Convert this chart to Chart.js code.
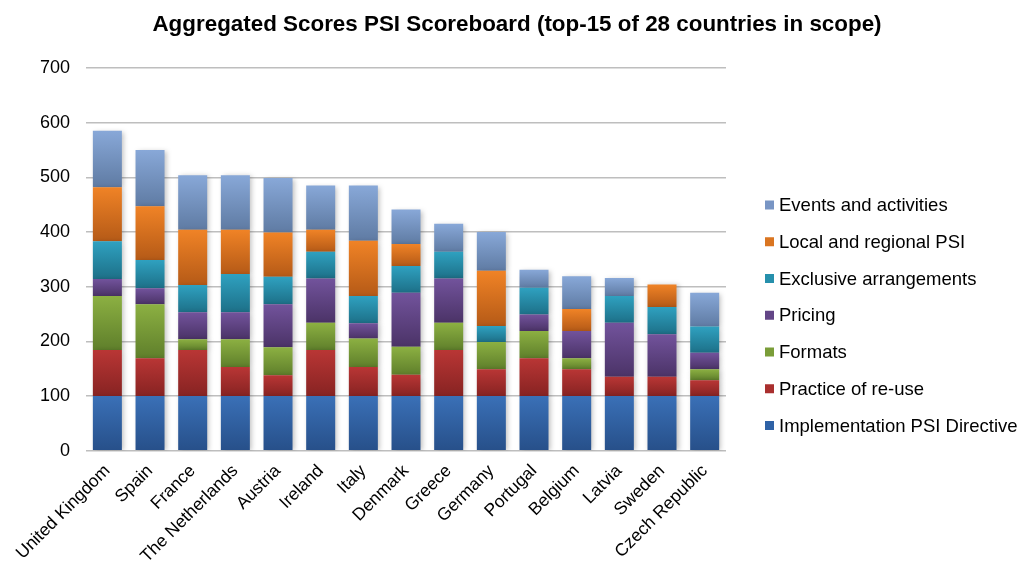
<!DOCTYPE html>
<html>
<head>
<meta charset="utf-8">
<script src="https://cdn.jsdelivr.net/npm/chart.js@4/dist/chart.umd.min.js"></script>
<style>
  html, body { margin: 0; padding: 0; background: #fff; }
  #wrap { width: 1019px; height: 565px; }
</style>
</head>
<body>
<div id="wrap"><canvas id="c" width="1019" height="565"></canvas></div>
<script>
const chartTitle = 'Aggregated Scores PSI Scoreboard (top-15 of 28 countries in scope)';
const categories = ['United Kingdom','Spain','France','The Netherlands','Austria','Ireland','Italy','Denmark','Greece','Germany','Portugal','Belgium','Latvia','Sweden','Czech Republic'];
const implementationPSI = [100,100,100,100,100,100,100,100,100,100,100,100,100,100,100];
const practiceReuse    = [84, 69, 84, 53, 38, 84, 53, 39, 84, 49, 69, 49, 35, 35, 29];
const formats          = [99, 99, 20, 51, 51, 50, 52, 51, 50, 50, 50, 20, 0, 0, 20];
const pricing          = [31, 29, 49, 49, 79, 81, 28, 99, 81, 0, 30, 50, 99, 78, 30];
const exclusiveArr     = [69, 52, 50, 70, 50, 49, 50, 49, 49, 29, 49, 0, 49, 50, 48];
const localRegional    = [99, 98, 101, 81, 81, 40, 101, 40, 0, 101, 0, 40, 0, 41, 0];
const eventsActivities = [103, 103, 100, 100, 100, 81, 101, 63, 51, 71, 33, 60, 33, 0, 62];
const yTicks = [0,100,200,300,400,500,600,700];

const seriesDefs = [
  ['Implementation PSI Directive', implementationPSI, '#3A70B7', '#27508A', '#2F62A6'],
  ['Practice of re-use', practiceReuse, '#B93635', '#872322', '#A92F2E'],
  ['Formats', formats, '#8CB042', '#5F7F2B', '#7A9D38'],
  ['Pricing', pricing, '#72539C', '#4B3367', '#634687'],
  ['Exclusive arrangements', exclusiveArr, '#2FA1C0', '#1D7088', '#2690AC'],
  ['Local and regional PSI', localRegional, '#F08326', '#B55A17', '#DA7521'],
  ['Events and activities', eventsActivities, '#88A8D8', '#5F7BA3', '#7895C4']
];

const datasets = seriesDefs.map(([label, data, top, bottom, mid]) => ({
  label, data,
  backgroundColor: (c) => top,
  topColor: top, bottomColor: bottom, legendColor: mid,
  borderWidth: 0,
  barPercentage: 0.68,
  categoryPercentage: 1.0
}));

const FONT = '"Liberation Sans", Arial, sans-serif';

const gradientPlugin = {
  id: 'grad',
  beforeDatasetDraw(chart, args) {
    const ctx = chart.ctx;
    const ds = chart.data.datasets[args.index];
    args.meta.data.forEach(el => {
      const t = Math.min(el.y, el.base), b = Math.max(el.y, el.base);
      if (b - t < 0.5) return;
      const g = ctx.createLinearGradient(0, t, 0, b);
      g.addColorStop(0, ds.topColor);
      g.addColorStop(1, ds.bottomColor);
      el.options = Object.assign({}, el.options, { backgroundColor: g });
    });
    ctx.save();
    ctx.shadowColor = 'rgba(0,0,0,0.25)';
    ctx.shadowBlur = 5;
    ctx.shadowOffsetX = 2;
    ctx.shadowOffsetY = 1;
  },
  afterDatasetDraw(chart) {
    chart.ctx.restore();
  }
};

// Title and right-hand legend drawn as text on the canvas
const annotPlugin = {
  id: 'annot',
  afterDraw(chart) {
    const ctx = chart.ctx;
    ctx.save();
    ctx.fillStyle = '#000';
    ctx.font = 'bold 22.4px ' + FONT;
    ctx.textAlign = 'center';
    ctx.textBaseline = 'alphabetic';
    ctx.fillText(chartTitle, 517, 31);

    ctx.font = '18.5px ' + FONT;
    ctx.textAlign = 'left';
    ctx.textBaseline = 'middle';
    const items = chart.data.datasets.slice().reverse();
    items.forEach((ds, i) => {
      const cy = 205 + i * 36.75;
      ctx.fillStyle = ds.legendColor;
      ctx.fillRect(765, cy - 4.5, 9, 9);
      ctx.fillStyle = '#000';
      ctx.fillText(ds.label, 779, cy + 1);
    });
    ctx.restore();
  }
};

new Chart(document.getElementById('c'), {
  type: 'bar',
  data: { labels: categories, datasets },
  plugins: [gradientPlugin, annotPlugin],
  options: {
    responsive: false,
    animation: false,
    layout: { padding: { left: 24, right: 293, top: 68, bottom: -4 } },
    plugins: {
      title: { display: false },
      legend: { display: false },
      tooltip: { enabled: false }
    },
    scales: {
      x: {
        stacked: true,
        grid: { display: false },
        border: { display: false },
        ticks: {
          color: '#000',
          font: { family: FONT, size: 17.5 },
          maxRotation: 45, minRotation: 45, autoSkip: false, padding: 2
        }
      },
      y: {
        stacked: true,
        min: 0, max: 700,
        afterBuildTicks(axis) { axis.ticks = yTicks.map(v => ({ value: v })); },
        grid: { color: '#BEBEBE', lineWidth: 1.5, drawTicks: false },
        border: { display: false },
        ticks: {
          color: '#000',
          font: { family: FONT, size: 18 },
          padding: 16
        }
      }
    }
  }
});
</script>
</body>
</html>
